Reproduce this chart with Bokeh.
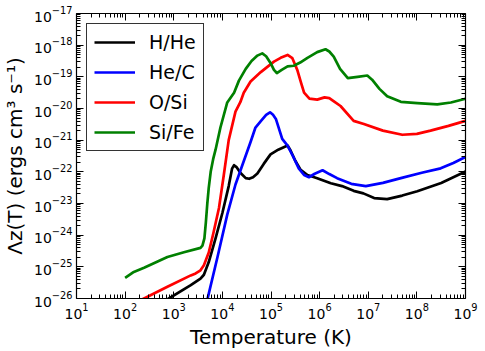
from bokeh.plotting import figure
from bokeh.models import FixedTicker, Legend, LegendItem, LogAxis
from bokeh.embed import file_html
from bokeh.resources import INLINE

# ---- data (temperature in K, cooling function in erg cm^3 s^-1) ----
T_hhe = [1.00e2, 7.94e2, 2.24e3, 3.55e3, 4.17e3, 5.25e3, 7.24e3, 1.00e4, 1.35e4, 1.58e4,
         1.74e4, 1.95e4, 2.34e4, 3.02e4, 3.55e4, 4.27e4, 5.25e4, 7.08e4, 9.77e4, 1.41e5,
         2.19e5, 2.51e5, 3.16e5, 4.07e5, 5.62e5, 8.91e5, 1.70e6, 2.88e6, 5.01e6, 7.94e6,
         1.32e7, 2.45e7, 5.01e7, 1.02e8, 3.16e8, 1.00e9]
L_hhe = [1.41e-27, 1.00e-26, 2.63e-26, 4.27e-26, 5.62e-26, 1.41e-25, 7.94e-25, 5.01e-24, 3.55e-23, 1.26e-22,
         1.62e-22, 1.41e-22, 9.33e-23, 6.31e-23, 6.03e-23, 6.76e-23, 8.91e-23, 1.78e-22, 3.55e-22, 5.01e-22,
         6.76e-22, 4.79e-22, 2.24e-22, 1.15e-22, 7.94e-23, 6.31e-23, 4.37e-23, 3.55e-23, 2.51e-23, 2.09e-23,
         1.48e-23, 1.38e-23, 1.78e-23, 2.45e-23, 4.47e-23, 1.02e-22]

T_hec = [3.98e3, 4.90e3, 7.94e3, 1.26e4, 1.86e4, 2.57e4, 3.80e4, 4.79e4, 6.17e4, 7.94e4,
         9.55e4, 1.10e5, 1.26e5, 1.70e5, 2.19e5, 2.82e5, 3.72e5, 4.79e5, 6.03e5, 7.94e5,
         1.15e6, 1.58e6, 2.29e6, 4.47e6, 8.91e6, 2.00e7, 4.68e7, 1.26e8, 3.09e8, 5.62e8, 1.00e9]
L_hec = [2.51e-27, 9.12e-27, 2.04e-25, 4.47e-24, 3.98e-23, 1.62e-22, 8.71e-22, 2.51e-21, 3.98e-21, 6.31e-21,
         7.59e-21, 6.31e-21, 4.68e-21, 1.10e-21, 6.76e-22, 3.16e-22, 1.29e-22, 7.94e-23, 6.76e-23, 8.71e-23,
         1.12e-22, 8.51e-23, 6.31e-23, 4.17e-23, 3.55e-23, 4.47e-23, 6.31e-23, 9.33e-23, 1.29e-22, 1.91e-22, 2.95e-22]

T_osi = [1.00e2, 2.45e2, 7.41e2, 2.24e3, 2.82e3, 3.55e3, 4.17e3, 5.25e3, 6.61e3, 8.51e3,
         1.07e4, 1.35e4, 1.86e4, 2.34e4, 2.75e4, 3.80e4, 6.17e4, 1.15e5, 1.58e5, 2.19e5,
         2.75e5, 3.47e5, 4.17e5, 4.79e5, 6.17e5, 8.91e5, 1.26e6, 1.58e6, 2.00e6, 2.69e6,
         5.01e6, 8.13e6, 2.00e7, 5.01e7, 1.00e8, 1.91e8, 4.47e8, 1.00e9]
L_osi = [5.13e-27, 1.00e-26, 2.34e-26, 5.37e-26, 6.17e-26, 7.76e-26, 1.12e-25, 2.82e-25, 1.26e-24, 7.24e-24,
         7.94e-23, 1.00e-21, 7.94e-21, 1.58e-20, 3.16e-20, 7.08e-20, 1.41e-19, 3.02e-19, 3.98e-19, 4.90e-19,
         3.89e-19, 1.66e-19, 6.31e-20, 3.16e-20, 2.04e-20, 1.91e-20, 2.24e-20, 2.14e-20, 1.66e-20, 1.20e-20,
         4.07e-21, 3.24e-21, 2.00e-21, 1.48e-21, 1.58e-21, 2.00e-21, 2.82e-21, 4.07e-21]

T_sife = [1.00e2, 1.51e2, 2.45e2, 7.41e2, 1.62e3, 3.55e3, 3.89e3, 4.27e3, 4.57e3, 4.90e3,
          5.25e3, 5.75e3, 6.46e3, 7.24e3, 9.12e3, 1.26e4, 1.74e4, 2.19e4, 3.02e4, 3.98e4,
          5.25e4, 6.61e4, 7.94e4, 9.77e4, 1.15e5, 1.32e5, 1.66e5, 2.19e5, 2.95e5, 3.98e5,
          5.62e5, 8.91e5, 1.32e6, 1.58e6, 1.95e6, 2.63e6, 3.80e6, 6.03e6, 9.55e6, 1.20e7,
          1.70e7, 2.45e7, 4.68e7, 1.02e8, 2.63e8, 5.01e8, 1.00e9]
L_sife = [4.47e-26, 6.92e-26, 9.33e-26, 2.04e-25, 2.88e-25, 3.98e-25, 4.68e-25, 7.94e-25, 2.51e-24, 1.00e-23,
          3.16e-23, 1.00e-22, 2.51e-22, 5.01e-22, 2.51e-21, 1.55e-20, 3.16e-20, 7.59e-20, 1.78e-19, 3.16e-19,
          4.68e-19, 5.50e-19, 4.47e-19, 2.75e-19, 1.66e-19, 1.32e-19, 1.66e-19, 2.14e-19, 2.24e-19, 2.82e-19,
          3.98e-19, 6.03e-19, 7.41e-19, 6.31e-19, 4.37e-19, 1.78e-19, 9.12e-20, 1.00e-19, 1.10e-19, 8.13e-20,
          4.17e-20, 2.45e-20, 1.62e-20, 1.48e-20, 1.35e-20, 1.55e-20, 2.04e-20]

series_names = ["H/He", "He/C", "O/Si", "Si/Fe"]
series_colors = ["#000000", "#0000ff", "#ff0000", "#008000"]

x_major = [1e1, 1e2, 1e3, 1e4, 1e5, 1e6, 1e7, 1e8, 1e9]
y_major = [1e-26, 1e-25, 1e-24, 1e-23, 1e-22, 1e-21, 1e-20, 1e-19, 1e-18, 1e-17]

x_label = "Temperature (K)"
y_label = "Λz(T) (ergs cm³ s⁻¹)"

FONT = "DejaVu Sans"

x_minor = [m * d for d in x_major[:-1] for m in range(2, 10)]
y_minor = [m * d for d in y_major[:-1] for m in range(2, 10)]

p = figure(width=485, height=351, x_axis_type="log", y_axis_type="log",
           x_range=(1e1, 1e9), y_range=(1e-26, 1e-17),
           output_backend="svg", toolbar_location=None,
           min_border_left=76, min_border_right=20, min_border_top=13, min_border_bottom=49)
p.xgrid.visible = False
p.ygrid.visible = False
p.outline_line_color = None
p.background_fill_color = "white"
p.border_fill_color = "white"

renderers = []
for (tx, ly), c in zip([(T_hhe, L_hhe), (T_hec, L_hec), (T_osi, L_osi), (T_sife, L_sife)], series_colors):
    r = p.line(tx, ly, line_color=c, line_width=2.7, line_join="round")
    renderers.append(r)

bottom_ax = p.below[0]
left_ax = p.left[0]
top_ax = LogAxis()
right_ax = LogAxis()
p.add_layout(top_ax, "above")
p.add_layout(right_ax, "right")

for ax in [bottom_ax, top_ax]:
    ax.ticker = FixedTicker(ticks=x_major, minor_ticks=x_minor)
for ax in [left_ax, right_ax]:
    ax.ticker = FixedTicker(ticks=y_major, minor_ticks=y_minor)

for ax in [bottom_ax, left_ax, top_ax, right_ax]:
    ax.major_tick_in = 7
    ax.major_tick_out = 0
    ax.minor_tick_in = 4
    ax.minor_tick_out = 0
    ax.axis_line_color = "black"
    ax.axis_line_width = 1.2
    ax.major_tick_line_color = "black"
    ax.minor_tick_line_color = "black"
    ax.major_label_text_font = FONT
    ax.major_label_text_font_size = "14px"
    ax.major_label_text_color = "black"
    ax.major_label_standoff = 4

for ax in [top_ax, right_ax]:
    ax.major_label_text_font_size = "1px"
    ax.major_label_text_color = None
    ax.major_label_standoff = 0

for ax, lab in [(bottom_ax, x_label), (left_ax, y_label)]:
    ax.axis_label = lab
    ax.axis_label_text_font = FONT
    ax.axis_label_text_font_size = "20px"
    ax.axis_label_text_font_style = "normal"
    ax.axis_label_text_color = "black"
bottom_ax.axis_label_standoff = 3
left_ax.axis_label_standoff = 4

legend = Legend(items=[LegendItem(label=n, renderers=[r]) for n, r in zip(series_names, renderers)],
                location="top_left", margin=10, padding=7, spacing=8,
                glyph_width=41, glyph_height=22, label_height=22, label_standoff=14,
                label_text_font=FONT, label_text_font_size="19px", label_text_color="black",
                border_line_color="black", border_line_width=1, border_line_alpha=0.8,
                background_fill_color="white", background_fill_alpha=1.0)
p.add_layout(legend)

open("out.html", "w").write(file_html(p, INLINE))
